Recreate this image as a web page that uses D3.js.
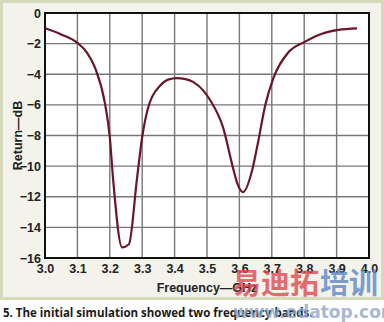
<!DOCTYPE html>
<html><head><meta charset="utf-8">
<script src="https://cdn.jsdelivr.net/npm/d3@7"></script>
<style>body{margin:0;background:#fff}svg{display:block}</style>
</head><body>
<script>
const freq = [3.00,3.05,3.10,3.13,3.155,3.185,3.20,3.21,3.238,3.259,3.284,3.30,3.318,3.33,3.355,3.38,3.407,3.43,3.457,3.49,3.51,3.55,3.58,3.593,3.611,3.639,3.657,3.68,3.704,3.75,3.80,3.855,3.905,3.963];
const ret  = [-1.0,-1.4,-1.95,-2.6,-3.6,-5.9,-8.1,-10.8,-15.3,-15.1,-10.8,-8.1,-6.2,-5.5,-4.75,-4.35,-4.25,-4.3,-4.5,-5.1,-5.7,-7.5,-10.1,-11.1,-11.7,-10.3,-8.5,-6.0,-4.3,-2.6,-1.9,-1.35,-1.1,-1.0];
const xTicks = [3.0,3.1,3.2,3.3,3.4,3.5,3.6,3.7,3.8,3.9,4.0];
const yTicks = [0,-2,-4,-6,-8,-10,-12,-14,-16];
const xTitle = "Frequency\u2014GHz";
const yTitle = "Return\u2014dB";
const caption = "5. The initial simulation showed two frequency bands.";

const W=384,H=322;
const svg=d3.select("body").append("svg").attr("width",W).attr("height",H);
const font='"Liberation Sans Narrow","Liberation Sans",Arial,sans-serif';

svg.append("rect").attr("x",1.5).attr("y",1.5).attr("width",W-3).attr("height",297)
  .attr("fill","#f3f3ec").attr("stroke","#d4dabb").attr("stroke-width",3);

const m={l:45,r:369,t:13,b:258};
const x=d3.scaleLinear().domain([3.0,4.0]).range([m.l,m.r]);
const y=d3.scaleLinear().domain([0,-16]).range([m.t,m.b]);

svg.append("rect").attr("x",m.l).attr("y",m.t).attr("width",m.r-m.l).attr("height",m.b-m.t).attr("fill","#fff");

const g=svg.append("g");
g.selectAll(".vx").data(xTicks.slice(1,-1)).join("line")
  .attr("x1",d=>x(d)).attr("x2",d=>x(d)).attr("y1",m.t).attr("y2",m.b)
  .attr("stroke","#777").attr("stroke-width",1.4);
g.selectAll(".hy").data(yTicks.slice(1,-1)).join("line")
  .attr("y1",d=>y(d)).attr("y2",d=>y(d)).attr("x1",m.l).attr("x2",m.r)
  .attr("stroke","#777").attr("stroke-width",1.4);

const line=d3.line().x((d,i)=>x(freq[i])).y(d=>y(d)).curve(d3.curveMonotoneX);
svg.append("path").attr("d",line(ret)).attr("fill","none")
  .attr("stroke","#6a1628").attr("stroke-width",2.2).attr("stroke-linejoin","round");

svg.append("rect").attr("x",m.l).attr("y",m.t).attr("width",m.r-m.l).attr("height",m.b-m.t)
  .attr("fill","none").attr("stroke","#111").attr("stroke-width",2);

const xa=svg.append("g").attr("transform",`translate(0,${m.b})`)
  .call(d3.axisBottom(x).tickValues(xTicks).tickFormat(d3.format(".1f")).tickSize(0).tickPadding(6));
xa.select(".domain").remove();
xa.selectAll("text").attr("font-family",font).attr("font-size",12.5).attr("font-weight","bold").attr("fill","#222");

const ya=svg.append("g").attr("transform",`translate(${m.l},0)`)
  .call(d3.axisLeft(y).tickValues(yTicks).tickFormat(d=>d===0?"0":"\u2212"+Math.abs(d)).tickSize(0).tickPadding(4));
ya.select(".domain").remove();
ya.selectAll("text").attr("font-family",font).attr("font-size",12.5).attr("font-weight","bold").attr("fill","#222");

svg.append("text").attr("x",(m.l+m.r)/2).attr("y",292).attr("text-anchor","middle")
  .attr("font-family",font).attr("font-size",12.5).attr("font-weight","bold").attr("fill","#222").text(xTitle);
svg.append("text").attr("transform",`translate(22,${(m.t+m.b)/2}) rotate(-90)`).attr("text-anchor","middle")
  .attr("font-family",font).attr("font-size",12.5).attr("font-weight","bold").attr("fill","#222").text(yTitle);

svg.append("text").attr("x",3).attr("y",317).attr("font-family",'"Open Sans","Liberation Sans",sans-serif')
  .attr("font-size",11.5).attr("font-weight","bold").attr("fill","#1a1a1a").text(caption);

// watermark
const wm=svg.append("g").attr("opacity",0.78);
wm.append("text").attr("x",232).attr("y",294).attr("font-family",'"Noto Sans CJK SC",sans-serif')
  .attr("font-size",29).attr("font-weight","bold").attr("fill","#e0454a").text("易迪拓");
wm.append("text").attr("x",320).attr("y",294).attr("font-family",'"Noto Sans CJK SC",sans-serif')
  .attr("font-size",29).attr("font-weight","bold").attr("fill","#5a86c6").text("培训");
wm.append("text").attr("x",233).attr("y",318).attr("font-family",'"DejaVu Sans",sans-serif')
  .attr("font-size",17).attr("font-weight","bold").attr("fill","#8fa6c8").text("www.edatop.com");
</script>
</body></html>
